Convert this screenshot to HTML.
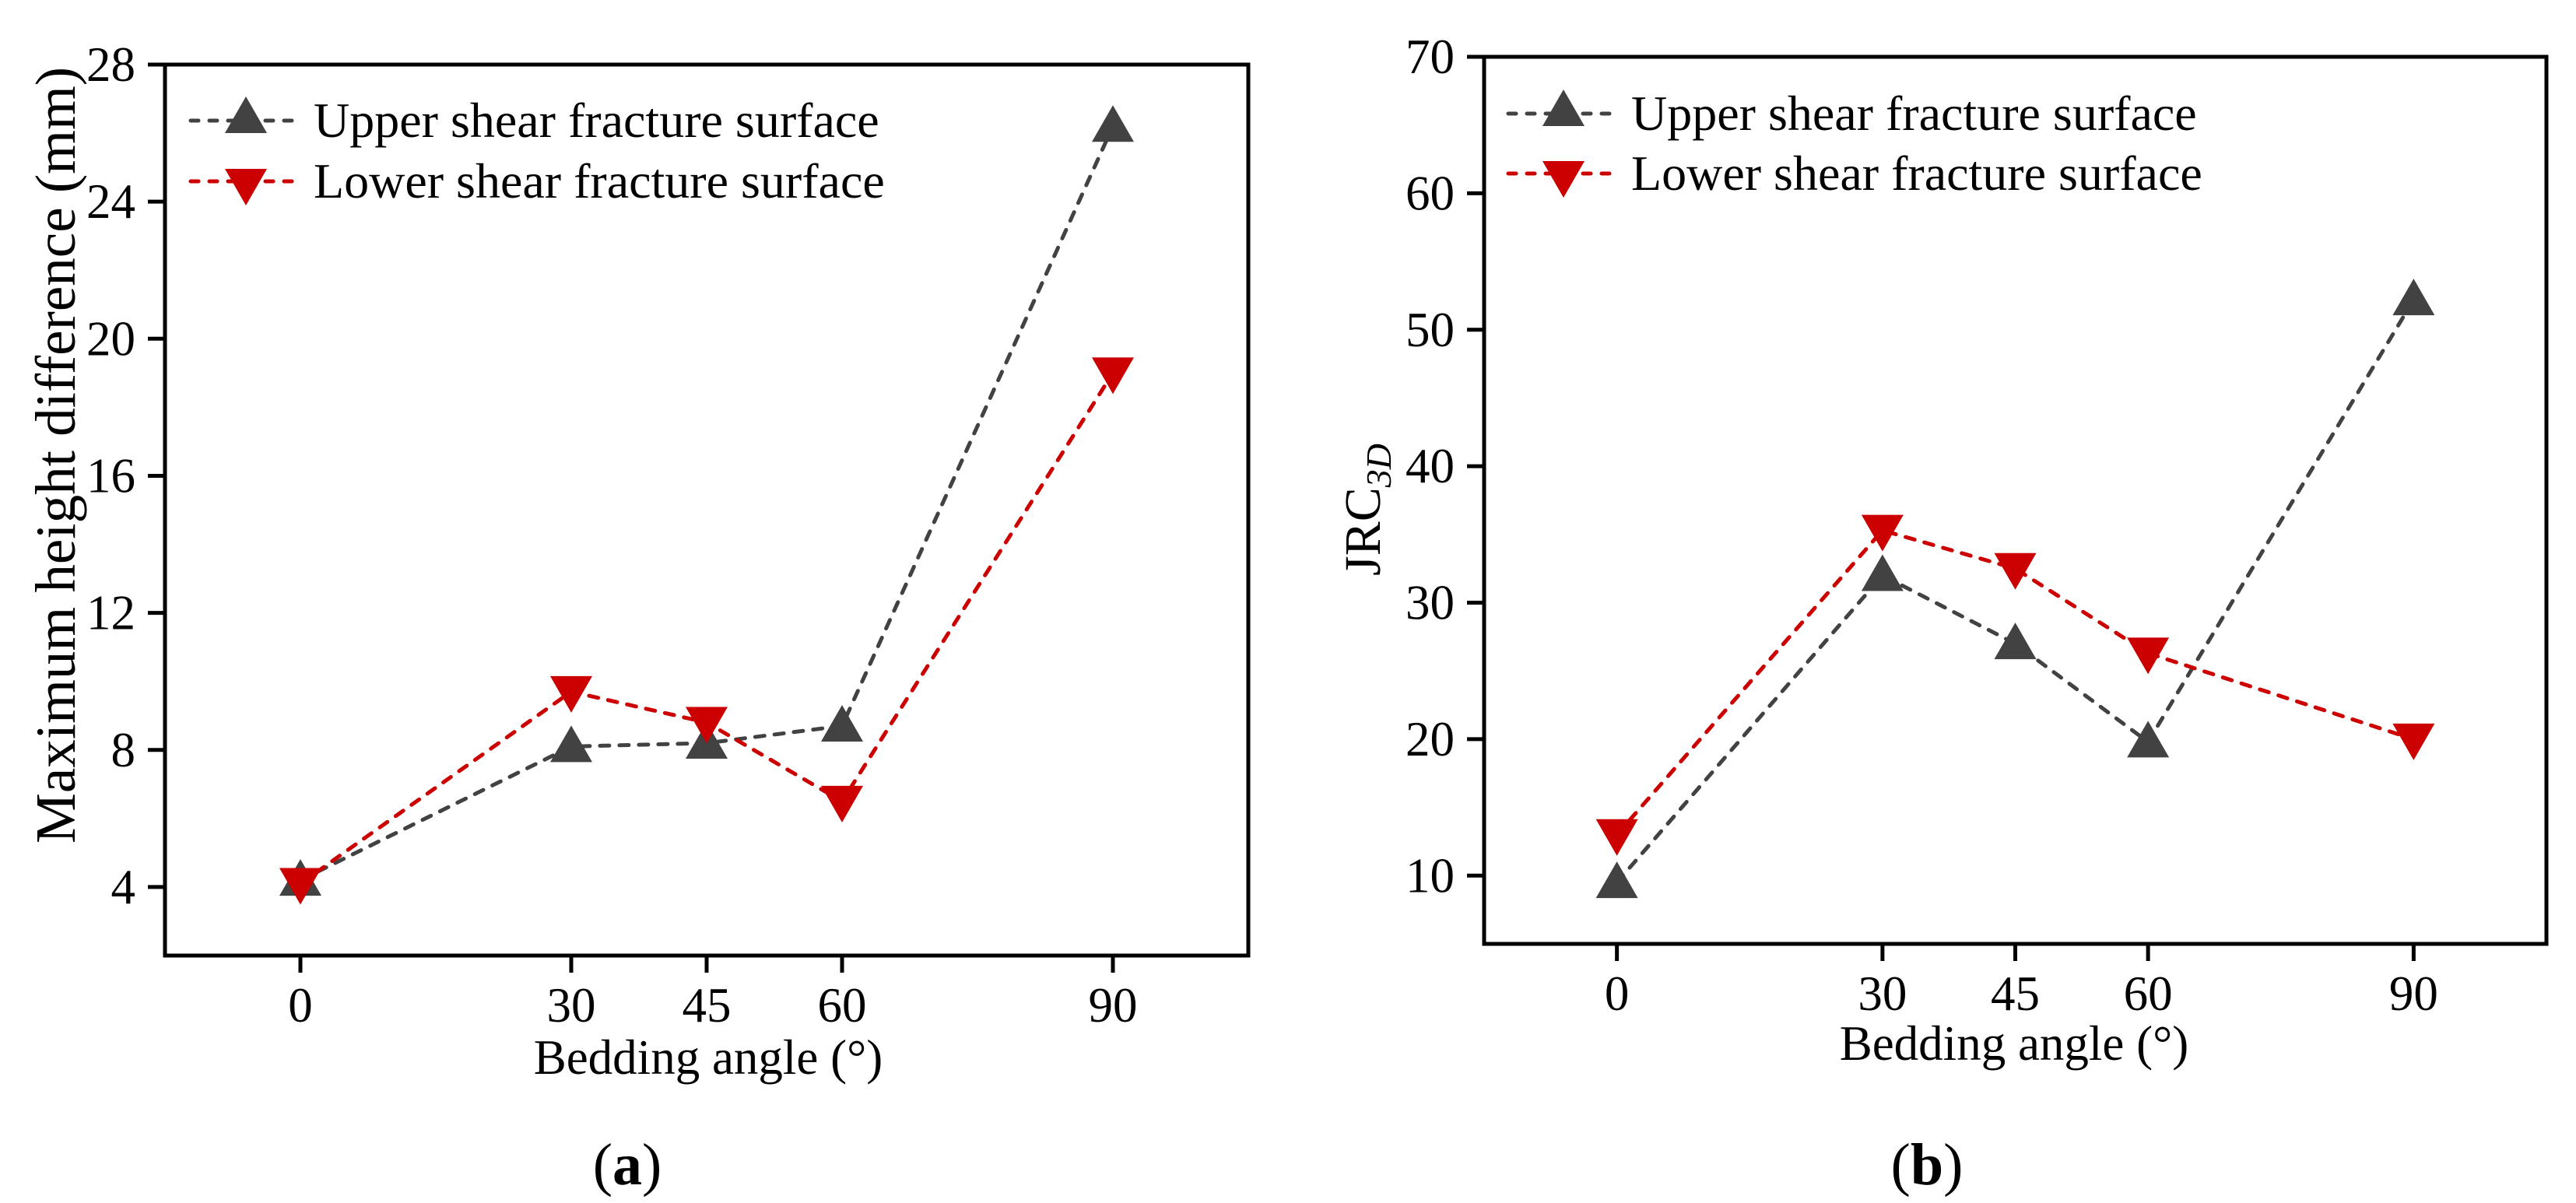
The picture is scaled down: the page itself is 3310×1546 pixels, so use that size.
<!DOCTYPE html>
<html><head><meta charset="utf-8"><style>
html,body{margin:0;padding:0;background:#fff;}
svg{display:block;font-family:"Liberation Serif",serif;}
</style></head><body>
<svg id="fig" width="3310" height="1546" viewBox="0 0 3310 1546"></svg>
<script>
const categories = [0, 30, 45, 60, 90];
const xTicks = [0, 30, 45, 60, 90];
const upperA = [4.2, 8.1, 8.2, 8.7, 26.2];
const lowerA = [4.1, 9.7, 8.8, 6.5, 19.0];
const yTicksA = [4, 8, 12, 16, 20, 24, 28];
const upperB = [9.5, 32.0, 27.0, 19.8, 52.2];
const lowerB = [13.0, 35.3, 32.5, 26.3, 20.0];
const yTicksB = [10, 20, 30, 40, 50, 60, 70];
const legendLabels = ["Upper shear fracture surface", "Lower shear fracture surface"];

const NS = "http://www.w3.org/2000/svg";
const svg = document.getElementById('fig');
function mk(tag, attrs, parent, text){
  const e = document.createElementNS(NS, tag);
  for (const k in attrs) e.setAttribute(k, attrs[k]);
  if (text !== undefined) e.textContent = text;
  (parent||svg).appendChild(e);
  return e;
}
const GREY = "#424242", RED = "#cc0000";

function triUp(g, cx, cy, color){
  return mk('polygon', {points:`${cx},${cy-27} ${cx-27},${cy+20} ${cx+27},${cy+20}`, fill:color}, g);
}
function triDown(g, cx, cy, color){
  return mk('polygon', {points:`${cx},${cy+27} ${cx-27},${cy-20} ${cx+27},${cy-20}`, fill:color}, g);
}

function panel(cfg){
  const g = mk('g', {});
  
  
  const {L,R,T,B,xmin,xmax,ymin,ymax} = cfg;
  const sx = v => L + (v - xmin) / (xmax - xmin) * (R - L);
  const sy = v => B - (v - ymin) / (ymax - ymin) * (B - T);

  cfg.yTicks.forEach(t => {
    const y = sy(t);
    const tk = mk('line', {x1:L-22, x2:L, y1:y, y2:y, stroke:'#000', 'stroke-width':5}, g);
    
    
    const lb = mk('text', {x:L-38, y:y+21, 'font-size':63, 'text-anchor':'end', fill:'#000'}, g, String(t));
    
    
  });
  xTicks.forEach(t => {
    const x = sx(t);
    const tk = mk('line', {x1:x, x2:x, y1:B, y2:B+22, stroke:'#000', 'stroke-width':5}, g);
    
    
    const lb = mk('text', {x:x, y:B+85, 'font-size':63, 'text-anchor':'middle', fill:'#000'}, g, String(t));
    
    
  });
  const fr = mk('rect', {x:L, y:T, width:R-L, height:B-T, fill:'none', stroke:'#000', 'stroke-width':5}, g);
  
  

  const series = [
    {vals:cfg.upper, color:GREY, up:true, name:'upper-series'},
    {vals:cfg.lower, color:RED, up:false, name:'lower-series'}
  ];
  series.forEach(s => {
    const pts = categories.map((c,i) => `${sx(c)},${sy(s.vals[i])}`).join(' ');
    const ln = mk('polyline', {points:pts, fill:'none', stroke:s.color, 'stroke-width':5, 'stroke-dasharray':'12 13', 'stroke-linecap':'round'}, g);
    
    
  });
  series.forEach(s => {
    categories.forEach((c,i) => {
      const m = s.up ? triUp(g, sx(c), sy(s.vals[i]), s.color) : triDown(g, sx(c), sy(s.vals[i]), s.color);
      
      
    });
  });

  const lg = mk('g', {}, g);
  
  
  [[GREY, true, cfg.legY1, legendLabels[0], 'legend-entry-upper'], [RED, false, cfg.legY2, legendLabels[1], 'legend-entry-lower']].forEach(e => {
    const [col, up, y, txt, nm] = e;
    const eg = mk('g', {}, lg);
    
    
    mk('line', {x1:cfg.legX-71, x2:cfg.legX+71, y1:y, y2:y, stroke:col, 'stroke-width':5, 'stroke-dasharray':'10 14', 'stroke-linecap':'round'}, eg);
    if (up) triUp(eg, cfg.legX, y-4, col); else triDown(eg, cfg.legX, y+4, col);
    mk('text', {x:cfg.legX+87, y:y+21, 'font-size':64, fill:'#000'}, eg, txt);
  });

  const xt = mk('text', {x:cfg.xtX, y:cfg.xtY, 'font-size':63, 'text-anchor':'middle', fill:'#000'}, g, cfg.xTitle);
  
  
  return g;
}

panel({name:'panel-a', L:212, R:1604, T:83, B:1228, xmin:-15, xmax:105, ymin:2, ymax:28,
  yTicks:yTicksA, upper:upperA, lower:lowerA, legX:316, legY1:155, legY2:233,
  xTitle:'Bedding angle (°)', xtX:910, xtY:1380});
panel({name:'panel-b', L:1907, R:3272, T:73, B:1213, xmin:-15, xmax:105, ymin:5, ymax:70,
  yTicks:yTicksB, upper:upperB, lower:lowerB, legX:2009, legY1:146, legY2:223,
  xTitle:'Bedding angle  (°)', xtX:2588, xtY:1362});

const ya = mk('text', {x:0, y:0, 'font-size':73, 'text-anchor':'middle', fill:'#000', transform:'translate(96,585) rotate(-90)'}, svg, 'Maximum height difference (mm)');


const yb = mk('text', {x:0, y:0, 'font-size':66, 'text-anchor':'middle', fill:'#000', transform:'translate(1773,655) rotate(-90)'}, svg);


mk('tspan', {}, yb, 'JRC');
mk('tspan', {'font-size':46, 'font-style':'italic', dy:14}, yb, '3D');

const ca = mk('text', {x:806, y:1522, 'font-size':76, 'text-anchor':'middle', fill:'#000'}, svg);


mk('tspan', {}, ca, '(');
mk('tspan', {'font-weight':'bold'}, ca, 'a');
mk('tspan', {}, ca, ')');
const cb = mk('text', {x:2476, y:1522, 'font-size':76, 'text-anchor':'middle', fill:'#000'}, svg);


mk('tspan', {}, cb, '(');
mk('tspan', {'font-weight':'bold'}, cb, 'b');
mk('tspan', {}, cb, ')');
</script>
</body></html>
